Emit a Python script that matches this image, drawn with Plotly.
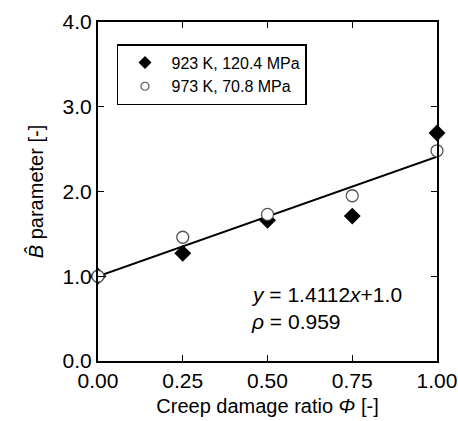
import plotly.graph_objects as go

phi = [0.00, 0.25, 0.50, 0.75, 1.00]
b923 = [1.00, 1.27, 1.66, 1.71, 2.69]
b973 = [1.00, 1.46, 1.73, 1.95, 2.48]
slope = 1.4112
intercept = 1.0
fit_x = [0.0, 1.0]
fit_y = [slope * v + intercept for v in fit_x]

x_ticks = [0.00, 0.25, 0.50, 0.75, 1.00]
x_tick_text = ["0.00", "0.25", "0.50", "0.75", "1.00"]
y_ticks = [0.0, 1.0, 2.0, 3.0, 4.0]
y_tick_text = ["0.0", "1.0", "2.0", "3.0", "4.0"]

FONT = "Liberation Sans, Arial, sans-serif"

fig = go.Figure()
fig.add_trace(go.Scatter(x=fit_x, y=fit_y, mode="lines",
                         line=dict(color="black", width=2),
                         showlegend=False, cliponaxis=False))
fig.add_trace(go.Scatter(x=phi, y=b923, mode="markers", name="923 K, 120.4 MPa",
                         marker=dict(symbol="diamond", size=13, color="black"),
                         showlegend=False, cliponaxis=False))
fig.add_trace(go.Scatter(x=phi, y=b973, mode="markers", name="973 K, 70.8 MPa",
                         marker=dict(symbol="circle", size=12, color="white",
                                     line=dict(color="#555555", width=1.3)),
                         showlegend=False, cliponaxis=False))
# legend entries (smaller symbols, as in the reference legend)
fig.add_trace(go.Scatter(x=[None], y=[None], mode="markers", name="923 K, 120.4 MPa",
                         marker=dict(symbol="diamond", size=10, color="black")))
fig.add_trace(go.Scatter(x=[None], y=[None], mode="markers", name="973 K, 70.8 MPa",
                         marker=dict(symbol="circle", size=8, color="white",
                                     line=dict(color="#555555", width=1.2))))

fig.add_annotation(x=0.445, y=0.79, xref="x", yref="y", xanchor="left", yanchor="middle",
                   text="<i>y</i> = 1.4112<i>x</i>+1.0", showarrow=False,
                   font=dict(size=21, color="black", family=FONT))
fig.add_annotation(x=0.445, y=0.47, xref="x", yref="y", xanchor="left", yanchor="middle",
                   text="<i>ρ</i> = 0.959", showarrow=False,
                   font=dict(size=21, color="black", family=FONT))

fig.update_xaxes(range=[0, 1], tickvals=x_ticks, ticktext=x_tick_text,
                 ticks="inside", ticklen=6, tickwidth=1, tickcolor="black",
                 showline=True, linecolor="black", linewidth=2, mirror="ticks",
                 showgrid=False, zeroline=False, automargin=False,
                 title=dict(text="Creep damage ratio <i>Φ</i> [-]", standoff=8,
                            font=dict(size=20, color="black", family=FONT)),
                 tickfont=dict(size=21, color="black", family=FONT))
fig.update_yaxes(range=[0, 4], tickvals=y_ticks, ticktext=y_tick_text,
                 ticks="inside", ticklen=6, tickwidth=1, tickcolor="black",
                 showline=True, linecolor="black", linewidth=2, mirror="ticks",
                 showgrid=False, zeroline=False, automargin=False,
                 title=dict(text="<i>B̂</i> parameter [-]", standoff=14,
                            font=dict(size=20, color="black", family=FONT)),
                 tickfont=dict(size=21, color="black", family=FONT))

fig.update_layout(
    width=458, height=421,
    margin=dict(l=98, r=21, t=22, b=60),
    paper_bgcolor="white", plot_bgcolor="white",
    legend=dict(x=0.056, y=0.935, xanchor="left", yanchor="top",
                bordercolor="black", borderwidth=1.5, bgcolor="white",
                font=dict(size=16, color="black", family=FONT),
                itemwidth=43, tracegroupgap=0),
)

fig.write_html("out.html", config={"displayModeBar": False},
               post_script="document.body.style.margin='0px';")
